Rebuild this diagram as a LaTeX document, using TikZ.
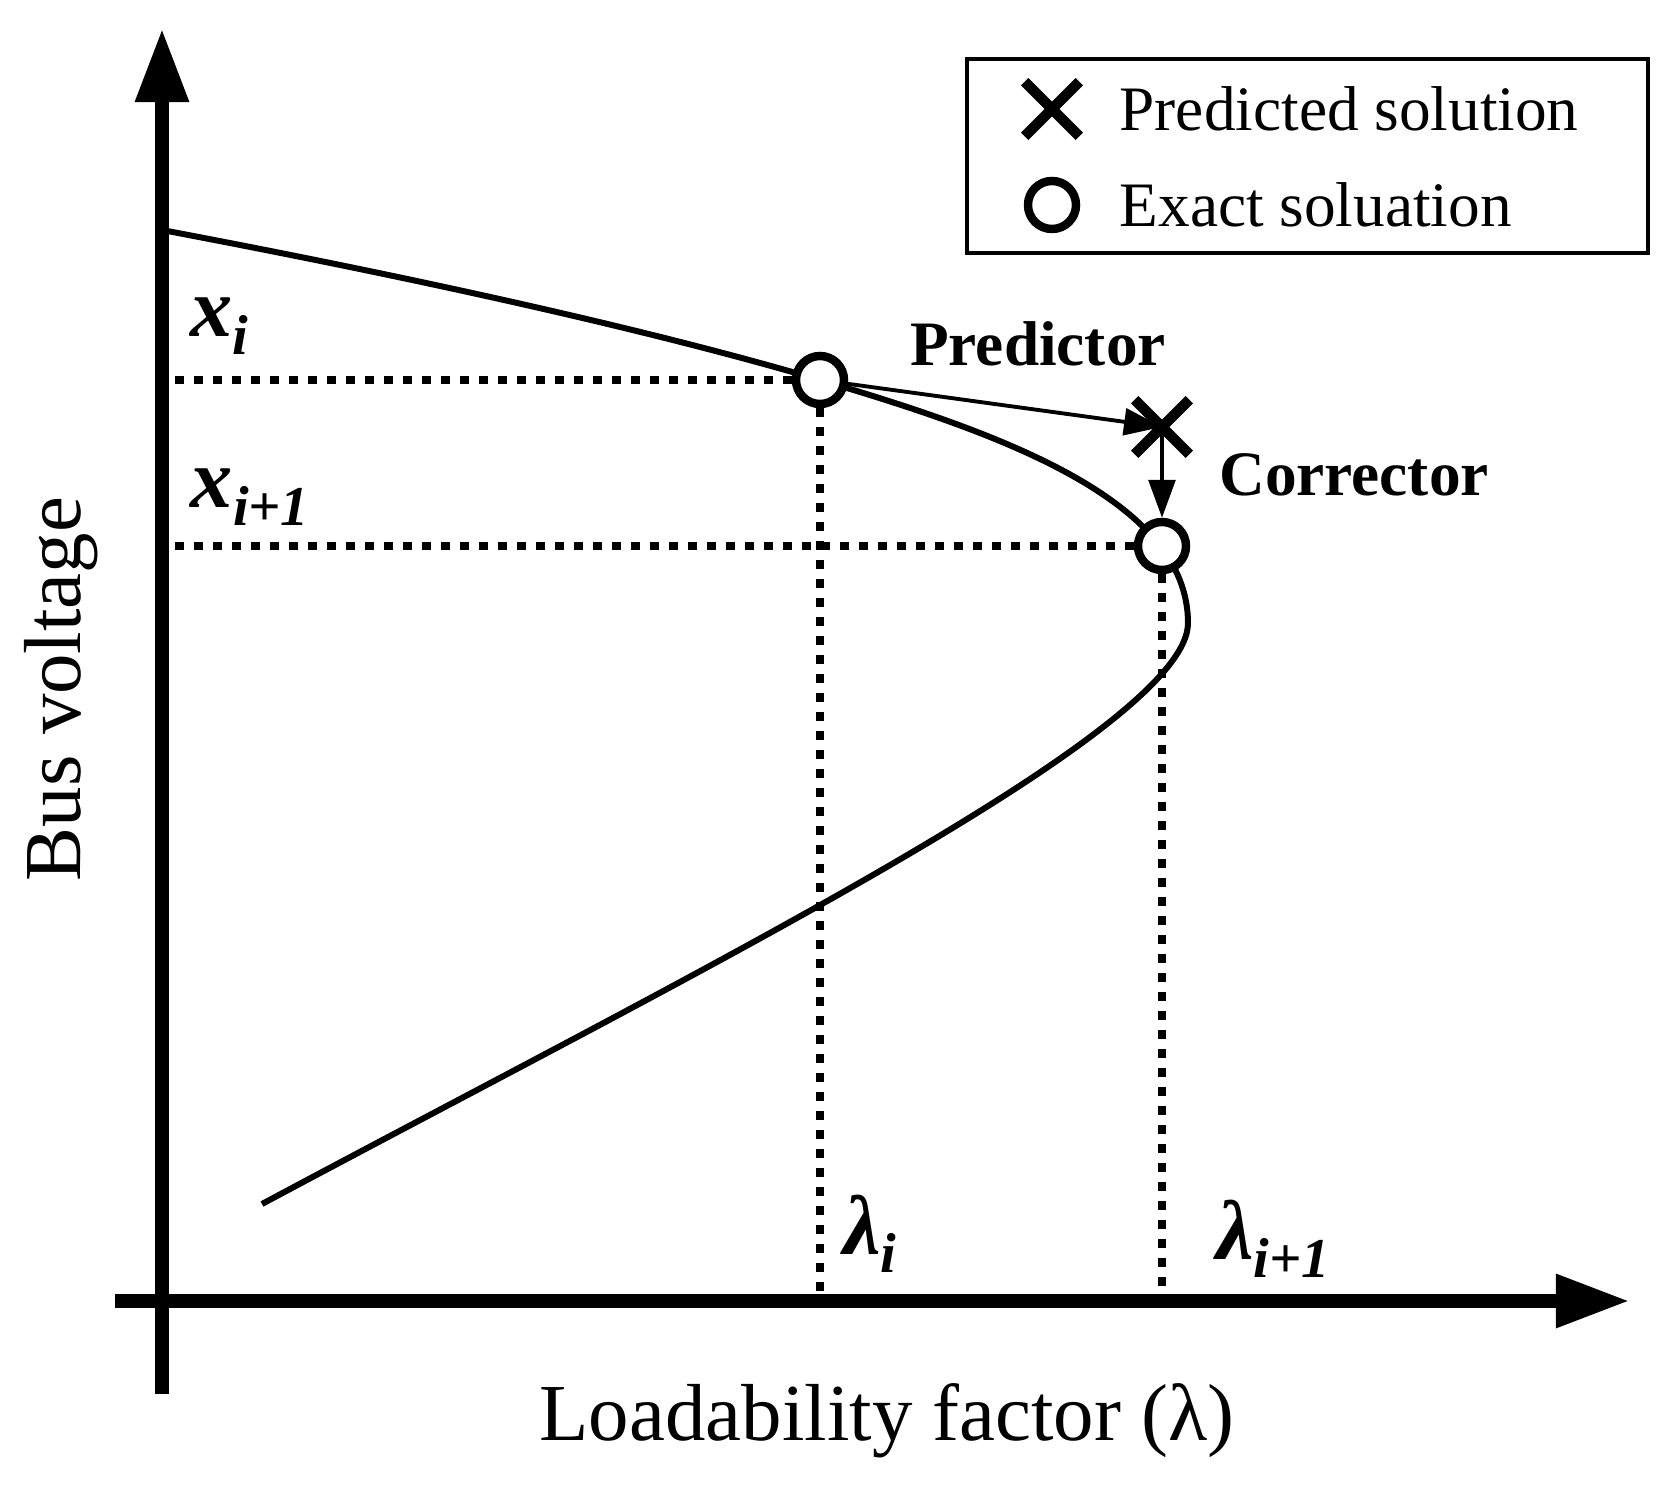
\documentclass[tikz,border=0pt]{standalone}
\usepackage{fontspec}
\setmainfont{Liberation Serif}
\usetikzlibrary{arrows.meta,shapes.misc}

\newcommand{\varlab}[2]{{\fontsize{24}{28}\selectfont\bfseries\itshape #1}\raisebox{-5pt}{\fontsize{16}{19}\selectfont\bfseries\itshape #2}}

\begin{document}
\begin{tikzpicture}[
		x=0.01cm,y=0.01cm,
		axis/.style={line width=4.25pt,-{Triangle[length=0.74cm,width=0.5cm]}},
		curve/.style={line width=1.7pt},
		guide/.style={line width=2.5pt,dash pattern=on 2.5pt off 2.9pt},
		move/.style={line width=1.1pt,-{Triangle[length=10.8pt,width=7.6pt]}},
		exact/.style={draw,circle,fill=white,line width=2.4pt,inner sep=0pt,minimum size=0.48cm},
		predicted/.style={draw,cross out,line width=3pt,inner sep=0pt,minimum size=0.44cm},
		big/.style={font=\fontsize{23}{27}\selectfont},
		mid/.style={font=\fontsize{18}{22}\selectfont},
		bold/.style={font=\fontsize{18}{22}\selectfont\bfseries}
		]
		\useasboundingbox (0,0) rectangle (1675,1490);

		\coordinate (o) at (162,189);
		\coordinate (ybot) at (162,96);
		\coordinate (ytop) at (162,1462);
		\coordinate (xleft) at (115,189);
		\coordinate (xright) at (1630,189);
		\draw[axis] (ybot) -- (ytop);
		\draw[axis] (xleft) -- (xright);

		\draw[curve] (162,1260) .. controls (400,1215) and (640,1163) .. (820,1110)
		 .. controls (1000,1057) and (1188,990) .. (1188,867)
		 .. controls (1188,760) and (690,515) .. (262,286);

		\node[exact] (p0) at (820,1110) {};
		\node[exact] (p1) at (1162,944) {};
		\node[predicted] (pred) at (1162,1063) {};

		\draw[guide] (p0) -- (p0 -| o);
		\draw[guide] (p1) -- (p1 -| o);
		\draw[guide] (p0) -- (p0 |- o);
		\draw[guide] (p1) -- (p1 |- o);

		\draw[move] (p0) -- (pred.center);
		\draw[move] (pred.center) -- (p1);

		\node (xi) at (219,1164) {\varlab{x}{i}};
		\node (xi1) at (250,993) {\varlab{x}{i+1}};
		\node (li) at (870,256) {\varlab{λ}{i}};
		\node (li1) at (1273,251) {\varlab{λ}{i+1}};
		\node[bold] (predictor) at (1038,1146) {Predictor};
		\node[bold] (corrector) at (1354,1015) {Corrector};

		\node[big,rotate=90] (ylabel) at (61,801) {Bus voltage};
		\node[big] (xlabel) at (887,69) {Loadability factor (λ)};

		\node[draw,line width=1.2pt,minimum width=6.81cm,minimum height=1.94cm] (legend) at (1307.5,1334) {};
		\node[predicted] (keypred) at (1052,1381) {};
		\node[exact] (keyexact) at (1052,1285) {};
		\node[mid,anchor=west,inner sep=0pt] (keypredtext) at (1119,1381) {Predicted solution};
		\node[mid,anchor=west,inner sep=0pt] (keyexacttext) at (1119,1285) {Exact soluation};

	\end{tikzpicture}
\end{document}
